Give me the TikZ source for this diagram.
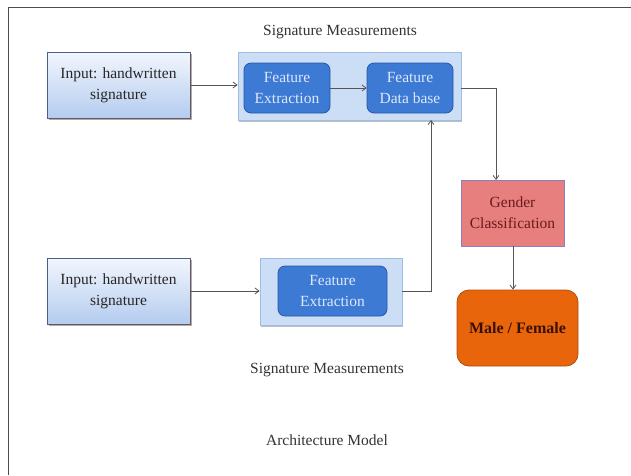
\documentclass[tikz,border=0pt]{standalone}
\usepackage{fontspec}
\setmainfont{Liberation Serif}
\usetikzlibrary{shadows,arrows.meta}
\definecolor{inbord}{HTML}{4A5F8C}
\definecolor{intop}{HTML}{F2F6FD}
\definecolor{inbot}{HTML}{B4CCEF}
\definecolor{contfill}{HTML}{CCDEF6}
\definecolor{contbord}{HTML}{9FBCE4}
\definecolor{innfill}{HTML}{3C7AD4}
\definecolor{innbord}{HTML}{2858A8}
\definecolor{inntext}{HTML}{DDE9FB}
\definecolor{gfill}{HTML}{E67F7E}
\definecolor{gbord}{HTML}{8A7FC0}
\definecolor{gtext}{HTML}{6A1A1A}
\definecolor{mfill}{HTML}{E8650C}
\definecolor{mbord}{HTML}{B04E10}
\definecolor{mtext}{HTML}{3A1005}
\definecolor{linec}{HTML}{555555}
\begin{document}
\begin{tikzpicture}[x=1pt,y=-1pt,
  inputbox/.style={draw=inbord,line width=0.8pt,top color=intop,bottom color=inbot,
    drop shadow={shadow xshift=1.5pt,shadow yshift=-2pt,fill=orange!60!black,opacity=0.5},
    minimum width=143pt,minimum height=66pt,align=center,font=\fontsize{15.5}{21}\selectfont,text=black!85},
  contbox/.style={draw=contbord,line width=0.8pt,fill=contfill,
    drop shadow={shadow xshift=1pt,shadow yshift=-1.5pt,fill=black,opacity=0.25}},
  innbox/.style={draw=innbord,line width=0.8pt,fill=innfill,rounded corners=7pt,
    minimum width=86pt,minimum height=50pt,align=center,text=inntext,font=\fontsize{15.5}{21}\selectfont},
  conn/.style={draw=linec,line width=0.8pt,-{Straight Barb[length=4pt,width=6pt]}},
  lab/.style={font=\fontsize{15.5}{19}\selectfont,text=black!80}]
\useasboundingbox (0,0) rectangle (631,475);
\fill[white] (0,0) rectangle (631,475);
\draw[black!70,line width=1pt] (8.5,475) -- (8.5,7.5) -- (631,7.5);

\node[lab] (t1) at (340,32) {Signature Measurements};
\node[lab] (t2) at (327,370) {Signature Measurements};
\node[lab] (t3) at (327,440) {Architecture Model};

\node[inputbox] (in1) at (118.5,85) {Input: handwritten\\signature};
\node[inputbox] (in2) at (118.5,291) {Input: handwritten\\signature};

\node[contbox,minimum width=223pt,minimum height=68pt] (c1) at (349.5,86) {};
\node[innbox] (fe1) at (287,88) {Feature\\Extraction};
\node[innbox] (fdb) at (410,88) {Feature\\Data base};

\node[contbox,minimum width=142pt,minimum height=67pt] (c2) at (331,291.5) {};
\node[innbox,minimum width=109pt] (fe2) at (332.5,291) {Feature\\Extraction};

\node[draw=gbord,line width=0.8pt,fill=gfill,minimum width=103pt,minimum height=66pt,
  align=center,text=gtext,font=\fontsize{15.5}{21}\selectfont] (g) at (512.5,213) {Gender\\Classification};
\node[draw=mbord,line width=0.8pt,fill=mfill,rounded corners=12pt,minimum width=121pt,
  minimum height=76pt,text=mtext,font=\fontsize{16}{19}\bfseries\selectfont] (m) at (517.5,328) {Male / Female};

\draw[conn] (in1.east) -- (in1.east -| c1.west);
\draw[conn] (fe1.east) -- (fdb.west);
\draw[conn] (c1.east |- fdb.east) -- (496,88) -- (496,180);
\draw[conn] (g.south -| 513,0) -- (m.north -| 513,0);
\draw[conn] (in2.east) -- (in2.east -| c2.west);
\draw[conn] (c2.east) -- (431,291.5) -- (431,120);
\end{tikzpicture}
\end{document}
